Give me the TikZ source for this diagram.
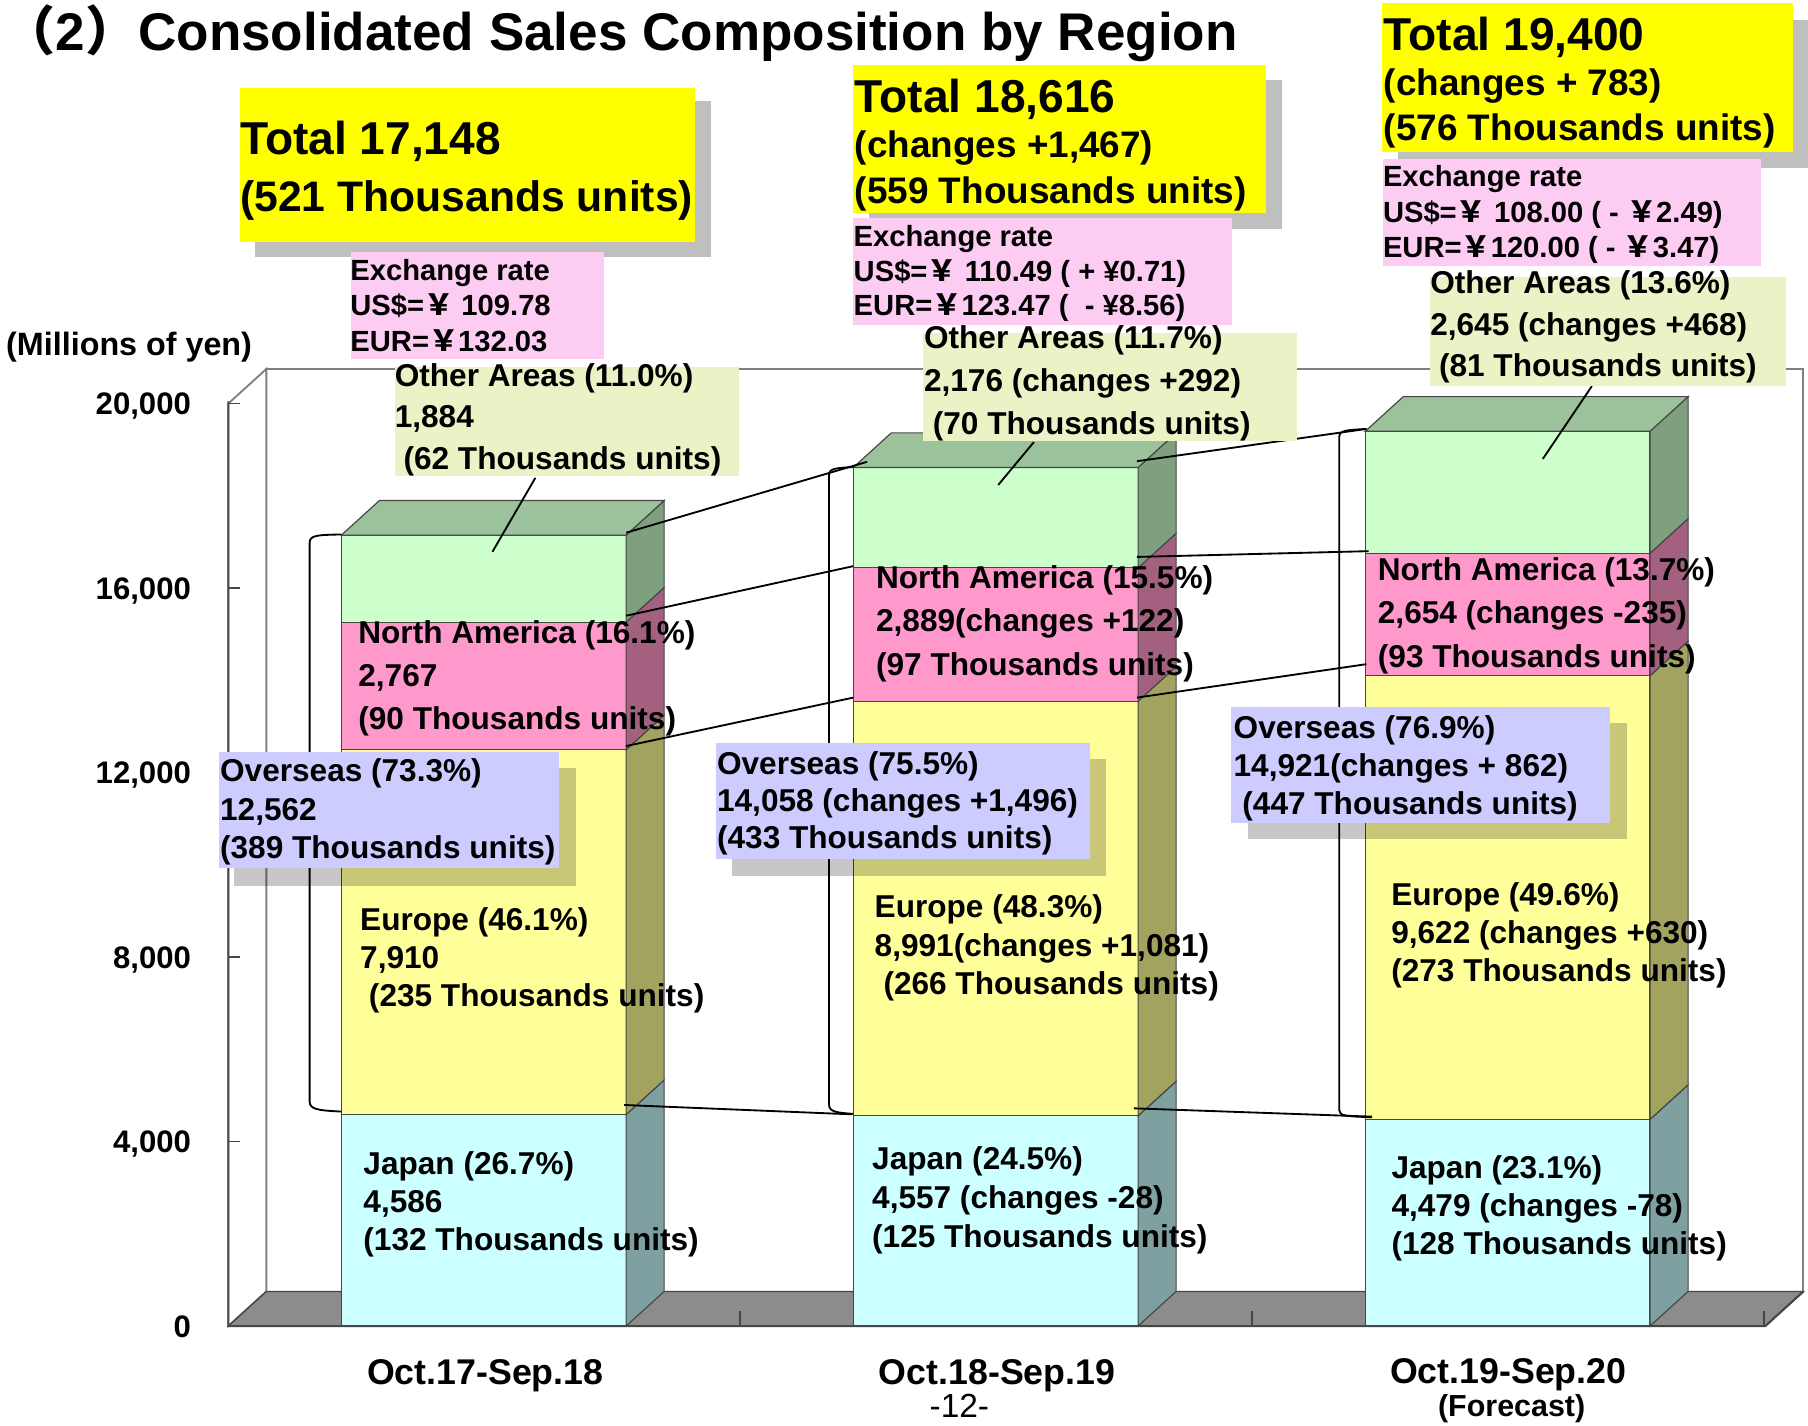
\documentclass[tikz,border=0pt]{standalone}
\usepackage{fontspec}
\setmainfont{Liberation Sans}
\newfontfamily\cjk{Noto Sans CJK JP}
\newcommand\fwyen{{\cjk ￥}}
\newcommand\fsz[2]{\fontsize{#1}{#2}\selectfont}
\definecolor{jpF}{RGB}{204,255,255}
\definecolor{jpS}{RGB}{126,160,160}
\definecolor{euF}{RGB}{255,255,153}
\definecolor{euS}{RGB}{163,163,96}
\definecolor{naF}{RGB}{255,153,204}
\definecolor{naS}{RGB}{163,97,127}
\definecolor{otF}{RGB}{204,255,204}
\definecolor{otS}{RGB}{127,160,127}
\definecolor{otT}{RGB}{155,194,155}
\definecolor{edge}{RGB}{70,70,70}
\definecolor{wallline}{RGB}{128,128,128}
\definecolor{floorc}{RGB}{140,140,140}
\definecolor{totalY}{RGB}{255,255,0}
\definecolor{shadowc}{RGB}{191,191,191}
\definecolor{exPink}{RGB}{253,204,242}
\definecolor{otherBox}{RGB}{235,242,198}
\definecolor{ovBox}{RGB}{204,204,255}
\newcommand\barseg[5]{%
  \filldraw[fill=#4,draw=edge,line width=0.5pt] (#1,#2) rectangle ({#1+247},#3);
  \filldraw[fill=#5,draw=edge,line width=0.5pt] ({#1+247},#2) -- ({#1+247},#3) -- ({#1+280},{#3-30}) -- ({#1+280},{#2-30}) -- cycle;}
\newcommand\bartop[3]{%
  \filldraw[fill=#3,draw=edge,line width=0.5pt] (#1,#2) -- ({#1+247},#2) -- ({#1+280},{#2-30}) -- ({#1+33},{#2-30}) -- cycle;}
\tikzset{
  txt/.style={anchor=north west, inner sep=0pt, align=left},
  lab/.style={txt, font=\bfseries\fsz{13.7}{#1}},
  exch/.style={txt, font=\bfseries\fsz{12.65}{#1}},
  axlab/.style={anchor=base east, inner sep=0pt, font=\bfseries\fsz{13.5}{16}},
  catlab/.style={anchor=base, inner sep=0pt, font=\bfseries\fsz{15.5}{18}},
  conn/.style={black, line width=0.8pt},
  shadowbox/.style={fill=black, fill opacity=0.22},
}
\begin{document}
\begin{tikzpicture}[x=0.5pt,y=-0.5pt]
\fill[white] (0,0) rectangle (1568,1236.7);
\useasboundingbox (0,0) rectangle (1568,1236.7);
% walls and floor
\filldraw[fill=white,draw=wallline,line width=0.8pt] (231,320) rectangle (1564,1120);
\filldraw[fill=white,draw=wallline,line width=0.8pt] (198,350) -- (231,320) -- (231,1120) -- (198,1150) -- cycle;
\filldraw[fill=floorc,draw=edge,line width=0.6pt] (198,1150) -- (1531,1150) -- (1564,1120) -- (231,1120) -- cycle;
% axes
\draw[edge,line width=0.9pt] (198,348) -- (198,1150) -- (1531,1150) -- (1564,1120);
\foreach \v in {350,510,670,830,990,1150} \draw[edge,line width=0.8pt] (198,\v) -- (208,\v);
\foreach \u in {642,1086,1530} \draw[edge,line width=0.8pt] (\u,1150) -- (\u,1137);
% bars
\barseg{296}{1150}{966.6}{jpF}{jpS}
\barseg{296}{966.6}{650.2}{euF}{euS}
\barseg{296}{650.2}{539.5}{naF}{naS}
\barseg{296}{539.5}{464.1}{otF}{otS}
\bartop{296}{464.1}{otT}
\barseg{740}{1150}{967.7}{jpF}{jpS}
\barseg{740}{967.7}{608.1}{euF}{euS}
\barseg{740}{608.1}{492.5}{naF}{naS}
\barseg{740}{492.5}{405.4}{otF}{otS}
\bartop{740}{405.4}{otT}
\barseg{1184}{1150}{970.8}{jpF}{jpS}
\barseg{1184}{970.8}{586.0}{euF}{euS}
\barseg{1184}{586.0}{479.8}{naF}{naS}
\barseg{1184}{479.8}{374.0}{otF}{otS}
\bartop{1184}{374.0}{otT}
% connector end points
\coordinate (a1) at (543,462);   \coordinate (a2) at (752,400.5);
\coordinate (b1) at (543,534);   \coordinate (b2) at (740,491);
\coordinate (c1) at (543,647);   \coordinate (c2) at (740,605);
\coordinate (d1) at (541.3,958.3); \coordinate (d2) at (738.8,966.4);
\coordinate (e1) at (986,400);   \coordinate (e2) at (1185,372);
\coordinate (f1) at (986,483);   \coordinate (f2) at (1187,478);
\coordinate (g1) at (986,605);   \coordinate (g2) at (1185,576);
\coordinate (h1) at (983.4,961.2); \coordinate (h2) at (1189.7,968.4);
\draw[conn] (a1) -- (a2); \draw[conn] (b1) -- (b2); \draw[conn] (c1) -- (c2); \draw[conn] (d1) -- (d2);
\draw[conn] (e1) -- (e2); \draw[conn] (f1) -- (f2); \draw[conn] (g1) -- (g2); \draw[conn] (h1) -- (h2);
% brackets
\coordinate (br1t) at (296,463.5); \coordinate (br1b) at (296,964);
\coordinate (br2t) at (740,405);   \coordinate (br2b) at (740,966);
\coordinate (br3t) at (1185,372);  \coordinate (br3b) at (1190,969);
\draw[conn] (br1t) .. controls (275,464) and (268.5,464) .. (268.5,471) -- (268.5,955) .. controls (268.5,962) and (275,963) .. (br1b);
\draw[conn] (br2t) .. controls (725,406) and (719,406) .. (719,412) -- (719,958) .. controls (719,964) and (725,965) .. (br2b);
\draw[conn] (br3t) .. controls (1168,373) and (1161.5,373) .. (1161.5,379) -- (1161.5,963) .. controls (1161.5,968) and (1168,968) .. (br3b);
% leaders
\coordinate (l1a) at (464.3,414.4); \coordinate (l1b) at (427.1,478.5);
\coordinate (l2a) at (896.6,383.4); \coordinate (l2b) at (865.7,420.6);
\coordinate (l3a) at (1380.6,334.8); \coordinate (l3b) at (1338,398);
\draw[conn] (l1a) -- (l1b); \draw[conn] (l2a) -- (l2b); \draw[conn] (l3a) -- (l3b);
% total boxes
\fill[shadowc] (221.5,88) rectangle (616.3,223);
\fill[totalY] (208,76) rectangle (602.4,209.6);
\fill[shadowc] (754,69.4) rectangle (1112,199);
\fill[totalY] (740,56) rectangle (1098,185);
\fill[shadowc] (1212,17) rectangle (1568,146);
\fill[totalY] (1198.3,3) rectangle (1555.4,131.5);
% exchange boxes
\fill[exPink] (304.7,218.8) rectangle (523.7,311.3);
\fill[exPink] (740,189.3) rectangle (1068.3,281.9);
\fill[exPink] (1199.8,138.2) rectangle (1527.2,230.4);
% other areas boxes
\fill[otherBox] (342.4,318) rectangle (641,412.8);
\fill[otherBox] (800.6,289) rectangle (1124.5,382.8);
\fill[otherBox] (1240,240) rectangle (1549,334.8);
% overseas boxes
\fill[shadowbox] (203.2,666.2) rectangle (499.3,768.1);
\fill[ovBox] (189.6,652.2) rectangle (485,752.7);
\fill[shadowbox] (635,658.5) rectangle (959.2,760);
\fill[ovBox] (621,644.5) rectangle (945.3,745.2);
\fill[shadowbox] (1082,627.3) rectangle (1411.2,727.8);
\fill[ovBox] (1068,613.3) rectangle (1396.4,713.9);
% title and axis texts
\node[anchor=base west, inner sep=0pt, font=\bfseries\fsz{23}{27}] (title) at (2,43.4) {{\cjk （}2{\cjk ）}Consolidated Sales Composition by Region};
\node[anchor=base west, inner sep=0pt, font=\bfseries\fsz{14}{16}] (unit) at (5,308) {(Millions of yen)};
\node[axlab] (y20) at (166,359.7) {20,000};
\node[axlab] (y16) at (166,519.7) {16,000};
\node[axlab] (y12) at (166,679.7) {12,000};
\node[axlab] (y8) at (166,839.7) {8,000};
\node[axlab] (y4) at (166,999.7) {4,000};
\node[axlab] (y0) at (166,1159.7) {0};
\node[catlab] (c17) at (420.8,1201) {Oct.17-Sep.18};
\node[catlab] (c18) at (864.7,1201) {Oct.18-Sep.19};
\node[catlab] (c19) at (1308,1200) {Oct.19-Sep.20};
\node[anchor=base, inner sep=0pt, font=\fsz{14.5}{16}] (page) at (832,1229) {-12-};
\node[anchor=base, inner sep=0pt, font=\bfseries\fsz{13.2}{16}] (fc) at (1311,1228.5) {(Forecast)};
% total texts
\node[txt, font=\bfseries\fsz{18.5}{24.85}] (tot1) at (208,104.2) {{\fsz{20}{24.85}Total 17,148}\\(521 Thousands units)};
\node[txt, font=\bfseries\fsz{16}{19.75}] (tot2) at (741,68.1) {{\fsz{20}{24}Total 18,616}\\(changes +1,467)\\(559 Thousands units)};
\node[txt, font=\bfseries\fsz{16}{19.5}] (tot3) at (1199.8,14.6) {{\fsz{20}{24}Total 19,400}\\(changes + 783)\\(576 Thousands units)};
% exchange texts
\node[exch=15.3] (ex1) at (303.5,224.6) {Exchange rate\\US\$=\fwyen\ 109.78\\EUR=\fwyen{}132.03};
\node[exch=15] (ex2) at (740,195.1) {Exchange rate\\US\$=\fwyen\ 110.49 ( + ¥0.71)\\EUR=\fwyen{}123.47 (\ \ - ¥8.56)};
\node[exch=15.35] (ex3) at (1199,143.1) {Exchange rate\\US\$=\fwyen\ 108.00 ( - \fwyen{}2.49)\\EUR=\fwyen{}120.00 ( - \fwyen{}3.47)};
% other areas texts
\node[lab=18.05] (oa1) at (342,314.6) {Other Areas (11.0\%)\\1,884\\\ (62 Thousands units)};
\node[lab=18.6] (oa2) at (801,282.2) {Other Areas (11.7\%)\\2,176 (changes +292)\\\ (70 Thousands units)};
\node[lab=17.95] (oa3) at (1240,234.5) {Other Areas (13.6\%)\\2,645 (changes +468)\\\ (81 Thousands units)};
% overseas texts
\node[lab=16.65] (ov1) at (190.5,657.8) {Overseas (73.3\%)\\12,562\\(389 Thousands units)};
\node[lab=16.1] (ov2) at (621.5,651) {Overseas (75.5\%)\\14,058 (changes +1,496)\\(433 Thousands units)};
\node[lab=16.6] (ov3) at (1069.5,620) {Overseas (76.9\%)\\14,921(changes + 862)\\\ (447 Thousands units)};
% bar texts
\node[lab=18.7] (na1) at (310.4,537.6) {North America (16.1\%)\\2,767\\(90 Thousands units)};
\node[lab=16.5] (eu1) at (312,787) {Europe (46.1\%)\\7,910\\\ (235 Thousands units)};
\node[lab=16.5] (jp1) at (314.8,998.2) {Japan (26.7\%)\\4,586\\(132 Thousands units)};
\node[lab=18.97] (na2) at (759.4,489.9) {North America (15.5\%)\\2,889(changes +122)\\(97 Thousands units)};
\node[lab=16.55] (eu2) at (758.2,775.8) {Europe (48.3\%)\\8,991(changes +1,081)\\\ (266 Thousands units)};
\node[lab=16.75] (jp2) at (756,994.2) {Japan (24.5\%)\\4,557 (changes -28)\\(125 Thousands units)};
\node[lab=18.9] (na3) at (1194.6,482.9) {North America (13.7\%)\\2,654 (changes -235)\\(93 Thousands units)};
\node[lab=16.5] (eu3) at (1206.2,765) {Europe (49.6\%)\\9,622 (changes +630)\\(273 Thousands units)};
\node[lab=16.4] (jp3) at (1206.4,1002) {Japan (23.1\%)\\4,479 (changes -78)\\(128 Thousands units)};
\end{tikzpicture}
\end{document}
